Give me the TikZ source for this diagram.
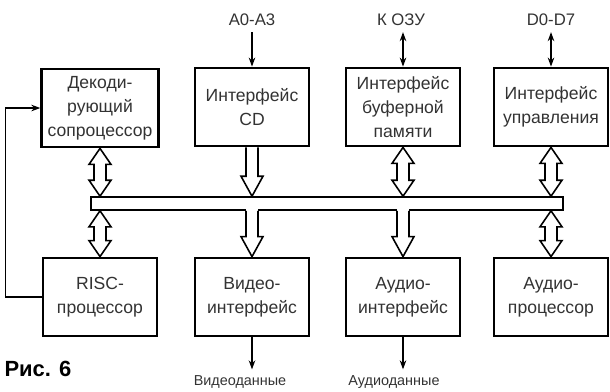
\documentclass[tikz,border=0pt]{standalone}
\usepackage{fontspec}
\setmainfont{Liberation Sans}
\usepackage{tikz}
\usetikzlibrary{arrows.meta, calc}

% hollow two-way arrow, from #1 (top) to #2 (bottom)
\newcommand{\dblarrow}[2]{%
  \draw[hollow] (#1) -- ($(#1)+(11,16)$) -- ($(#1)+(6,16)$) -- ($(#2)+(6,-16)$)
    -- ($(#2)+(11,-16)$) -- (#2) -- ($(#2)+(-11,-16)$) -- ($(#2)+(-6,-16)$)
    -- ($(#1)+(-6,16)$) -- ($(#1)+(-11,16)$) -- cycle;}
% hollow one-way arrow, shaft at #1, tip at #2, #3 = overlap into the bus
\newcommand{\busarrow}[3]{%
  \fill[white] ($(#1)+(-6,-#3)$) -- ($(#2)+(-6,-20)$) -- ($(#2)+(6,-20)$) -- ($(#1)+(6,-#3)$) -- cycle;
  \draw[hollow] ($(#1)+(-6,0)$) -- ($(#2)+(-6,-20)$) -- ($(#2)+(-11,-20)$) -- (#2)
    -- ($(#2)+(11,-20)$) -- ($(#2)+(6,-20)$) -- ($(#1)+(6,0)$);}

\begin{document}
\begin{tikzpicture}[x=0.2mm, y=-0.2mm,
  box/.style={draw, line width=1.6pt, fill=white, minimum width=22.8mm, minimum height=15.6mm,
    align=center, text=black!80, font=\fontsize{10}{13.7}\selectfont},
  lbl/.style={text=black!80, font=\fontsize{9.5}{12}\selectfont},
  hollow/.style={line width=0.9pt, fill=white},
  sig/.style={line width=0.9pt, -{Stealth[length=1.8mm, width=1.3mm]}},
  sigtwo/.style={line width=0.9pt, {Stealth[length=1.8mm, width=1.3mm]}-{Stealth[length=1.8mm, width=1.3mm]}}]
  \useasboundingbox (0,0) rectangle (610,391);

  % top row
  \node[box] (dec) at (100,108) {Декоди-\\рующий\\сопроцессор};
  \node[box] (cd)  at (252,107) {Интерфейс\\CD};
  \node[box] (buf) at (403,107) {Интерфейс\\буферной\\памяти};
  \node[box] (ctl) at (551,107) {Интерфейс\\управления};
  % bottom row
  \node[box] (risc) at (100,297) {RISC-\\процессор};
  \node[box] (vid)  at (252,297) {Видео-\\интерфейс};
  \node[box] (aud)  at (403,297) {Аудио-\\интерфейс};
  \node[box] (apr)  at (551,297) {Аудио-\\процессор};
  % bus
  \node[draw, line width=0.9pt, fill=white, minimum width=94.4mm, minimum height=2.6mm,
    inner sep=0pt] (bus) at (327,203.5) {};

  % signal labels
  \node[lbl] (a03)  at (252,20) {A0-A3};
  \node[lbl] (ozu)  at (401,20) {К ОЗУ};
  \node[lbl] (d07)  at (551,20) {D0-D7};
  \node[lbl, font=\fontsize{8.2}{10}\selectfont] (vout) at (240,382) {Видеоданные};
  \node[lbl, font=\fontsize{8.2}{10}\selectfont] (aout) at (394,382) {Аудиоданные};
  \node[font=\bfseries\fontsize{12.5}{14}\selectfont] (fig) at (38,369) {Рис. 6};

  \draw[sig] (a03) -- (cd);
  \draw[sigtwo] (ozu.south -| buf.north) -- (buf);
  \draw[sigtwo] (d07) -- (ctl);
  \draw[sig] (vid) -- (vout.north -| vid.south);
  \draw[sig] (aud) -- (aout.north -| aud.south);
  \draw[sig] (risc.west) -- ++(-36,0) |- (dec.west);

  % bus links
  \dblarrow{dec.south}{bus.north -| dec.south}
  \busarrow{cd.south}{bus.north -| cd.south}{0}
  \dblarrow{buf.south}{bus.north -| buf.south}
  \dblarrow{ctl.south}{bus.north -| ctl.south}
  \dblarrow{bus.south -| risc.north}{risc.north}
  \busarrow{bus.south -| vid.north}{vid.north}{3}
  \busarrow{bus.south -| aud.north}{aud.north}{3}
  \dblarrow{bus.south -| apr.north}{apr.north}
\end{tikzpicture}
\end{document}
